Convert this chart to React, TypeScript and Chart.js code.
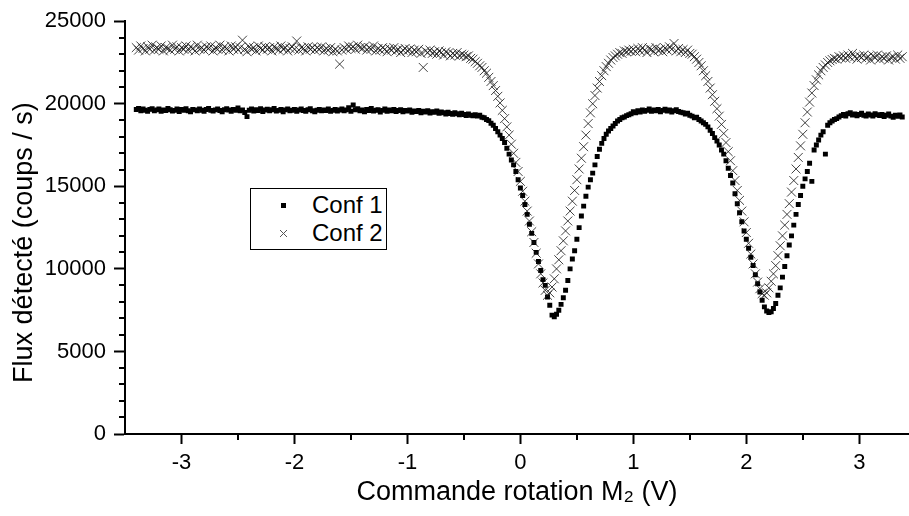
import React, { useEffect, useRef } from "react";
import { Chart, registerables } from "chart.js";

Chart.register(...registerables);

// Command voltage sweep (V)
const VOLTAGE = [
  -3.4, -3.38, -3.36, -3.34, -3.32, -3.3, -3.28, -3.26, -3.24, -3.22,
  -3.2, -3.18, -3.16, -3.14, -3.12, -3.1, -3.08, -3.06, -3.04, -3.02,
  -3, -2.98, -2.96, -2.94, -2.92, -2.9, -2.88, -2.86, -2.84, -2.82,
  -2.8, -2.78, -2.76, -2.74, -2.72, -2.7, -2.68, -2.66, -2.64, -2.62,
  -2.6, -2.58, -2.56, -2.54, -2.52, -2.5, -2.48, -2.46, -2.44, -2.42,
  -2.4, -2.38, -2.36, -2.34, -2.32, -2.3, -2.28, -2.26, -2.24, -2.22,
  -2.2, -2.18, -2.16, -2.14, -2.12, -2.1, -2.08, -2.06, -2.04, -2.02,
  -2, -1.98, -1.96, -1.94, -1.92, -1.9, -1.88, -1.86, -1.84, -1.82,
  -1.8, -1.78, -1.76, -1.74, -1.72, -1.7, -1.68, -1.66, -1.64, -1.62,
  -1.6, -1.58, -1.56, -1.54, -1.52, -1.5, -1.48, -1.46, -1.44, -1.42,
  -1.4, -1.38, -1.36, -1.34, -1.32, -1.3, -1.28, -1.26, -1.24, -1.22,
  -1.2, -1.18, -1.16, -1.14, -1.12, -1.1, -1.08, -1.06, -1.04, -1.02,
  -1, -0.98, -0.96, -0.94, -0.92, -0.9, -0.88, -0.86, -0.84, -0.82,
  -0.8, -0.78, -0.76, -0.74, -0.72, -0.7, -0.68, -0.66, -0.64, -0.62,
  -0.6, -0.58, -0.56, -0.54, -0.52, -0.5, -0.48, -0.46, -0.44, -0.42,
  -0.4, -0.38, -0.36, -0.34, -0.32, -0.3, -0.28, -0.26, -0.24, -0.22,
  -0.2, -0.18, -0.16, -0.14, -0.12, -0.1, -0.08, -0.06, -0.04, -0.02,
  0, 0.02, 0.04, 0.06, 0.08, 0.1, 0.12, 0.14, 0.16, 0.18,
  0.2, 0.22, 0.24, 0.26, 0.28, 0.3, 0.32, 0.34, 0.36, 0.38,
  0.4, 0.42, 0.44, 0.46, 0.48, 0.5, 0.52, 0.54, 0.56, 0.58,
  0.6, 0.62, 0.64, 0.66, 0.68, 0.7, 0.72, 0.74, 0.76, 0.78,
  0.8, 0.82, 0.84, 0.86, 0.88, 0.9, 0.92, 0.94, 0.96, 0.98,
  1, 1.02, 1.04, 1.06, 1.08, 1.1, 1.12, 1.14, 1.16, 1.18,
  1.2, 1.22, 1.24, 1.26, 1.28, 1.3, 1.32, 1.34, 1.36, 1.38,
  1.4, 1.42, 1.44, 1.46, 1.48, 1.5, 1.52, 1.54, 1.56, 1.58,
  1.6, 1.62, 1.64, 1.66, 1.68, 1.7, 1.72, 1.74, 1.76, 1.78,
  1.8, 1.82, 1.84, 1.86, 1.88, 1.9, 1.92, 1.94, 1.96, 1.98,
  2, 2.02, 2.04, 2.06, 2.08, 2.1, 2.12, 2.14, 2.16, 2.18,
  2.2, 2.22, 2.24, 2.26, 2.28, 2.3, 2.32, 2.34, 2.36, 2.38,
  2.4, 2.42, 2.44, 2.46, 2.48, 2.5, 2.52, 2.54, 2.56, 2.58,
  2.6, 2.62, 2.64, 2.66, 2.68, 2.7, 2.72, 2.74, 2.76, 2.78,
  2.8, 2.82, 2.84, 2.86, 2.88, 2.9, 2.92, 2.94, 2.96, 2.98,
  3, 3.02, 3.04, 3.06, 3.08, 3.1, 3.12, 3.14, 3.16, 3.18,
  3.2, 3.22, 3.24, 3.26, 3.28, 3.3, 3.32, 3.34, 3.36, 3.38,
];

// Conf 1 detected flux (counts / s)
const CONF1 = [
  19650, 19720, 19580, 19690, 19610, 19540, 19660, 19700, 19570, 19630,
  19680, 19550, 19620, 19590, 19710, 19640, 19560, 19600, 19680, 19530,
  19650, 19610, 19700, 19580, 19520, 19660, 19630, 19570, 19690, 19610,
  19540, 19650, 19720, 19600, 19560, 19630, 19680, 19590, 19510, 19640,
  19700, 19620, 19550, 19660, 19600, 19740, 19580, 19630, 19470, 19220,
  19610, 19680, 19560, 19640, 19590, 19700, 19530, 19620, 19670, 19580,
  19640, 19710, 19560, 19600, 19660, 19520, 19630, 19690, 19570, 19610,
  19650, 19540, 19620, 19680, 19590, 19550, 19640, 19700, 19580, 19520,
  19610, 19660, 19570, 19630, 19590, 19680, 19540, 19600, 19650, 19560,
  19620, 19690, 19580, 19630, 19760, 19550, 19930, 19640, 19700, 19580,
  19620, 19520, 19660, 19590, 19710, 19560, 19610, 19640, 19500, 19600,
  19680, 19550, 19620, 19570, 19650, 19530, 19590, 19640, 19510, 19600,
  19560, 19620, 19480, 19570, 19530, 19600, 19450, 19550, 19500, 19580,
  19440, 19520, 19480, 19560, 19420, 19500, 19450, 19380, 19480, 19410,
  19360, 19450, 19390, 19330, 19420, 19350, 19290, 19380, 19310, 19270,
  19330, 19250, 19300, 19180, 19150, 19050, 18980, 18820, 18700, 18500,
  18300, 18100, 17900, 17650, 17300, 16950, 16600, 16300, 15900, 15400,
  14900, 14450, 13900, 13300, 12700, 12150, 11600, 11000, 10450, 9900,
  9350, 9000, 8300, 7800, 7200, 7100, 7250, 7500, 7850, 8250,
  8700, 9300, 10000, 10600, 11100, 11800, 12500, 13200, 13800, 14400,
  14950, 15400, 15800, 16300, 16800, 17250, 17600, 17900, 18150, 18350,
  18500, 18650, 18800, 18950, 19050, 19150, 19200, 19280, 19330, 19400,
  19520, 19450, 19580, 19500, 19620, 19540, 19600, 19680, 19550, 19620,
  19580, 19650, 19520, 19600, 19670, 19560, 19620, 19500, 19580, 19640,
  19530, 19480, 19450, 19380, 19420, 19300, 19250, 19150, 19180, 19050,
  18950, 18850, 18750, 18600, 18400, 18200, 17950, 17750, 17500, 17200,
  16950, 16550, 16100, 15650, 15200, 14550, 13950, 13400, 12850, 12300,
  11800, 11250, 10700, 10200, 9650, 9100, 8600, 8100, 7700, 7450,
  7350, 7400, 7600, 7900, 8400, 8850, 9500, 10150, 10800, 11450,
  12000, 12650, 13300, 13900, 14450, 15000, 15450, 15900, 16400, 15300,
  17200, 17500, 17800, 18100, 18300, 16950, 18700, 18850, 18950, 19050,
  19100, 19200, 19280, 19350, 19250, 19400, 19450, 19320, 19380, 19270,
  19350, 19420, 19300, 19250, 19380, 19320, 19260, 19400, 19330, 19280,
  19350, 19220, 19300, 19380, 19250, 19180, 19300, 19240, 19320, 19200,
];

// Conf 2 detected flux (counts / s)
const CONF2 = [
  23400, 23250, 23500, 23350, 23200, 23450, 23300, 23550, 23250, 23400,
  23300, 23500, 23200, 23400, 23350, 23250, 23550, 23300, 23450, 23200,
  23400, 23300, 23500, 23250, 23450, 23350, 23200, 23550, 23300, 23400,
  23250, 23450, 23350, 23500, 23200, 23400, 23300, 23550, 23250, 23450,
  23350, 23200, 23500, 23300, 23450, 23250, 23400, 23850, 23300, 23150,
  23450, 23300, 23400, 23200, 23500, 23350, 23250, 23450, 23300, 23400,
  23200, 23450, 23350, 23250, 23500, 23300, 23400, 23200, 23350, 23450,
  23300, 23800, 23250, 23400, 23350, 23200, 23450, 23300, 23400, 23250,
  23400, 23300, 23450, 23200, 23350, 23250, 23400, 23150, 23300, 23200,
  22400, 23250, 23400, 23300, 23500, 23350, 23450, 23300, 23550, 23400,
  23350, 23450, 23250, 23400, 23300, 23500, 23200, 23350, 23250, 23400,
  23300, 23150, 23350, 23250, 23400, 23200, 23300, 23100, 23250, 23350,
  23200, 23300, 23100, 23250, 23150, 23300, 23050, 22200, 23200, 23100,
  23250, 23050, 23150, 23000, 23200, 23100, 22950, 23150, 23050, 22900,
  23050, 22950, 23100, 22900, 23000, 22950, 22850, 22900, 22750, 22700,
  22550, 22450, 22300, 22200, 22000, 21850, 21600, 21350, 21100, 20800,
  20450, 20050, 19600, 19100, 18600, 18100, 17550, 17000, 16450, 15900,
  15300, 14700, 14100, 13500, 12900, 12250, 11600, 10950, 10300, 9700,
  9150, 8700, 8400, 8550, 8900, 9400, 10000, 10550, 11100, 11700,
  12300, 12900, 13500, 14100, 14750, 15400, 16050, 16700, 17400, 18100,
  18800, 19450, 20000, 20500, 20950, 21350, 21700, 22000, 22250, 22450,
  22650, 22800, 22900, 23000, 23100, 23050, 23200, 23150, 23250, 23180,
  23300, 23150, 23350, 23200, 23400, 23250, 23100, 23350, 23280, 23150,
  23400, 23220, 23300, 23150, 23380, 23250, 23450, 23300, 23650, 23200,
  23350, 23150, 23280, 23100, 23250, 23050, 23000, 22850, 22700, 22500,
  22300, 22000, 21700, 21350, 20950, 20550, 20150, 19700, 19250, 18750,
  18200, 17650, 17100, 16550, 15950, 15350, 14750, 14150, 13500, 12850,
  12200, 11550, 10900, 10300, 9700, 9200, 8800, 8500, 8400, 8550,
  8850, 9250, 9700, 10200, 10800, 11400, 12000, 12650, 13300, 13950,
  14650, 15350, 16050, 16750, 17450, 18150, 18850, 19500, 20100, 20650,
  21100, 21450, 21750, 22000, 22200, 22350, 22500, 22600, 22680, 22750,
  22700, 22850, 22780, 22900, 22750, 22950, 22800, 23050, 22850, 22700,
  22900, 22800, 22950, 22750, 22850, 22650, 22900, 22800, 22950, 22700,
  22850, 22750, 22900, 22650, 22800, 22850, 22700, 22950, 22750, 22850,
];

const SERIES_LABELS = ["Conf 1", "Conf 2"];
const X_MINOR_TICKS = [-2.5, -1.5, -0.5, 0.5, 1.5, 2.5];
const Y_MINOR_TICKS = [
  1000, 2000, 3000, 4000, 6000, 7000, 8000, 9000, 11000, 12000,
  13000, 14000, 16000, 17000, 18000, 19000, 21000, 22000, 23000, 24000,
];
const X_TITLE = "Commande rotation M\u2082 (V)";
const Y_TITLE = "Flux détecté (coups / s)    ";

const FONT = "'Liberation Sans', Arial, Helvetica, sans-serif";

const minorTicksPlugin = {
  id: "minorTicks",
  afterDraw(chart: any) {
    const { ctx, chartArea, scales } = chart;
    const xs = scales.x;
    const ys = scales.y;
    ctx.save();
    ctx.strokeStyle = "#000";
    ctx.lineWidth = 2;
    ctx.beginPath();
    X_MINOR_TICKS.forEach((v) => {
      const px = Math.round(xs.getPixelForValue(v));
      ctx.moveTo(px, chartArea.bottom);
      ctx.lineTo(px, chartArea.bottom + 6);
    });
    Y_MINOR_TICKS.forEach((v) => {
      const py = Math.round(ys.getPixelForValue(v));
      ctx.moveTo(chartArea.left - 6, py);
      ctx.lineTo(chartArea.left, py);
    });
    ctx.stroke();
    ctx.restore();
  },
};

export default function App() {
  const canvasRef = useRef<HTMLCanvasElement | null>(null);

  useEffect(() => {
    document.body.style.margin = "0";
    const canvas = canvasRef.current;
    if (!canvas) return;
    const chart = new Chart(canvas, {
      type: "scatter",
      data: {
        datasets: [
          {
            label: SERIES_LABELS[0],
            data: VOLTAGE.map((v, i) => ({ x: v, y: CONF1[i] })),
            pointStyle: "rect",
            pointRadius: 3.5,
            backgroundColor: "#000",
            borderColor: "#000",
            borderWidth: 0,
            showLine: false,
            order: 1,
          },
          {
            label: SERIES_LABELS[1],
            data: VOLTAGE.map((v, i) => ({ x: v, y: CONF2[i] })),
            pointStyle: "crossRot",
            pointRadius: 6.3,
            backgroundColor: "rgba(0,0,0,0)",
            borderColor: "rgba(20,20,20,0.8)",
            borderWidth: 1,
            showLine: false,
            order: 0,
          },
        ],
      },
      options: {
        animation: false,
        responsive: false,
        devicePixelRatio: 1,
        events: [],
        layout: { autoPadding: false, padding: { top: 18, right: 0, bottom: 0, left: 0 } },
        plugins: {
          legend: { display: false },
          tooltip: { enabled: false },
        },
        scales: {
          x: {
            type: "linear",
            min: -3.5,
            max: 3.44,
            afterFit: (s: any) => {
              s.height = 82;
              s.paddingLeft = 0;
              s.paddingRight = 0;
            },
            ticks: {
              stepSize: 1,
              includeBounds: false,
              color: "#000",
              font: { family: FONT, size: 22 },
              padding: 6,
              maxRotation: 0,
              callback: (v: any) => String(v),
            },
            grid: {
              display: true,
              drawOnChartArea: false,
              drawTicks: true,
              tickLength: 10,
              tickWidth: 2,
              tickColor: "#000",
            },
            border: { display: true, color: "#000", width: 2 },
            title: {
              display: true,
              text: X_TITLE,
              color: "#000",
              font: { family: FONT, size: 27 },
              padding: { top: 0, bottom: 7 },
            },
          },
          y: {
            type: "linear",
            min: 0,
            max: 25000,
            afterFit: (s: any) => {
              s.width = 125;
            },
            ticks: {
              stepSize: 5000,
              color: "#000",
              font: { family: FONT, size: 22 },
              padding: 8,
              callback: (v: any) => String(v),
            },
            grid: {
              display: true,
              drawOnChartArea: false,
              drawTicks: true,
              tickLength: 11,
              tickWidth: 2,
              tickColor: "#000",
            },
            border: { display: true, color: "#000", width: 2 },
            title: {
              display: true,
              text: Y_TITLE,
              color: "#000",
              font: { family: FONT, size: 27 },
              padding: { top: 8, bottom: 0 },
            },
          },
        },
      },
      plugins: [minorTicksPlugin],
    });
    return () => chart.destroy();
  }, []);

  return (
    <div style={{ position: "relative", width: 909, height: 516, background: "#fff", fontFamily: FONT }}>
      <canvas ref={canvasRef} width={909} height={516} style={{ display: "block" }} />
      <div
        style={{
          position: "absolute",
          left: 250,
          top: 188,
          width: 137,
          height: 62,
          border: "1px solid #000",
          boxSizing: "border-box",
          background: "#fff",
        }}
      />
      <div style={{ position: "absolute", left: 281, top: 203, width: 5, height: 5, background: "#000" }} />
      <svg style={{ position: "absolute", left: 279, top: 229 }} width={9} height={9}>
        <line x1={1} y1={1} x2={8} y2={8} stroke="#555" strokeWidth={1} />
        <line x1={8} y1={1} x2={1} y2={8} stroke="#555" strokeWidth={1} />
      </svg>
      <div style={{ position: "absolute", left: 312, top: 193, fontSize: 24, lineHeight: "24px", color: "#000", whiteSpace: "nowrap" }}>
        {SERIES_LABELS[0]}
      </div>
      <div style={{ position: "absolute", left: 312, top: 221, fontSize: 24, lineHeight: "24px", color: "#000", whiteSpace: "nowrap" }}>
        {SERIES_LABELS[1]}
      </div>
    </div>
  );
}
